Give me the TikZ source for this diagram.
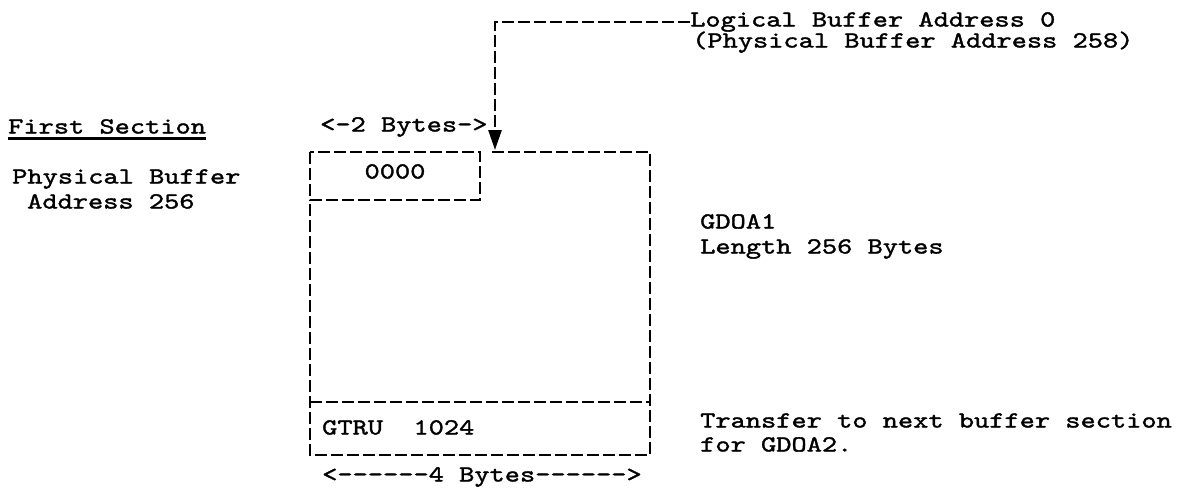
\documentclass[tikz,border=0pt]{standalone}
\usepackage{fontspec}
\setmonofont{lmmono10-regular.otf}[FakeStretch=1.26,FakeBold=1.5]
\usetikzlibrary{arrows.meta}
\begin{document}
\begin{tikzpicture}[x=1pt,y=-1pt,
  txt/.style={inner sep=0pt,anchor=base west,font=\ttfamily\fontsize{23}{25}\selectfont},
  ctxt/.style={txt,anchor=base},
  dline/.style={line width=2.6pt,dash pattern=on 12pt off 4pt},
  arr/.style={dline,-{Triangle[length=20pt,width=13pt]}},
]
\useasboundingbox[fill=white] (0,0) rectangle (1191,491);

% left labels
\node[txt] (fs) at (8,133.5) {First Section};
\draw[line width=2.2pt] ([yshift=-5pt]fs.base west) -- ([yshift=-5pt]fs.base east);
\node[txt] (pb1) at (12,183.5) {Physical Buffer};
\node[txt] (pb2) at (27,208.5) {Address 256};

% top labels
\node[txt] (log1) at (690,26.5) {Logical Buffer Address 0};
\node[txt] (log2) at (692,47.5) {(Physical Buffer Address 258)};
\node[txt] (twob) at (320,131.5) {<-2 Bytes->};

% buffer box
\draw[dline] (310,152) rectangle (480,200);
\draw[dline] (492,152) -- (650,152) -- (650,455) -- (310,455) -- (310,200);
\draw[dline] (310,402) -- (650,402);
\node[ctxt] (zero) at (395,178.5) {0000};
\node[txt] (gtru) at (322,434.5) {GTRU\ \ 1024};
\node[txt] (fourb) at (322,481.5) {<------4 Bytes------>};

% pointer arrow
\coordinate (tip) at (495,150);
\draw[arr] (log1.west) -| (tip);

% right labels
\node[txt] (g1) at (700,228.5) {GDOA1};
\node[txt] (g2) at (700,253.5) {Length 256 Bytes};
\node[txt] (t1) at (700,427.5) {Transfer to next buffer section};
\node[txt] (t2) at (700,451.5) {for GDOA2.};
\end{tikzpicture}
\end{document}
